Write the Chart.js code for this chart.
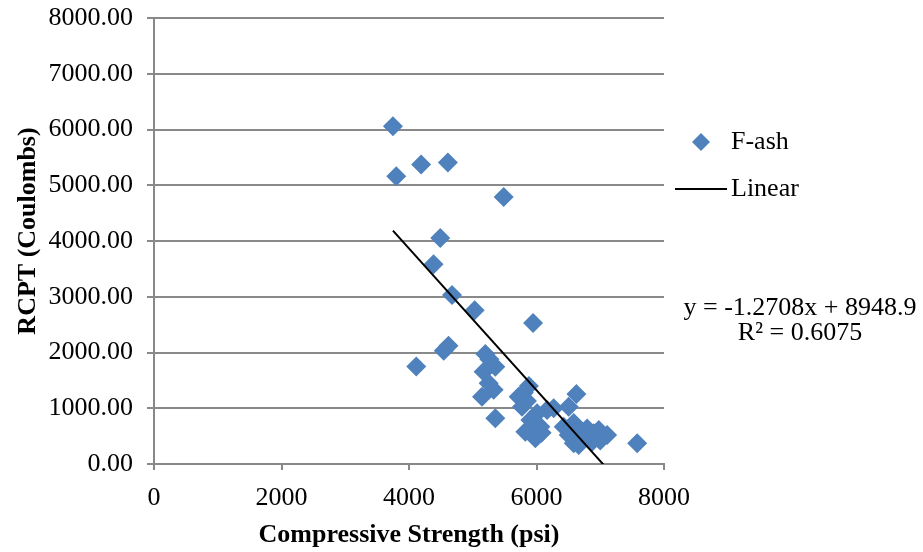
<!DOCTYPE html>
<html>
<head>
<meta charset="utf-8">
<script src="https://cdn.jsdelivr.net/npm/chart.js@4.4.1/dist/chart.umd.min.js"></script>
<style>
  html, body { margin: 0; padding: 0; background: #ffffff; }
  #wrap { width: 923px; height: 552px; }
</style>
</head>
<body>
<div id="wrap"><canvas id="chart" width="923" height="552"></canvas></div>
<script>
// Compressive strength (psi) of each F-ash mix
const strengthPsi = [
  3748, 3800, 4190, 4610, 5485, 4490, 4385, 4675, 5030, 5946,
  4620, 4545, 4114, 5197, 5260, 5354, 5171, 5249, 5328, 5145,
  5354, 5880, 5800, 5720, 5773, 5850, 6009, 5904, 5825, 5982,
  6061, 5990, 6080, 6270, 6166, 6626, 6505, 6584, 6505, 6427,
  6794, 6977, 7108, 6662, 6872, 6715, 6898, 7579, 6584, 7000
];
// Rapid chloride permeability (Coulombs) of the same mixes
const rcptCoulombs = [
  6060, 5160, 5370, 5410, 4790, 4055, 3585, 3030, 2760, 2530,
  2120, 2030, 1750, 1975, 1880, 1745, 1655, 1450, 1330, 1207,
  820, 1400, 1280, 1207, 1028, 1130, 909, 789, 580, 460,
  669, 740, 560, 998, 968, 1255, 1028, 737, 520, 669,
  638, 610, 520, 341, 400, 550, 550, 371, 371, 420
];

const xTickValues = [0, 2000, 4000, 6000, 8000];
const yTickValues = [0, 1000, 2000, 3000, 4000, 5000, 6000, 7000, 8000];

const seriesName = 'F-ash';
const trendName = 'Linear';
const trendSlope = -1.2708;
const trendIntercept = 8948.9;
const trendR2 = 0.6075;

const xTitle = 'Compressive Strength (psi)';
const yTitle = 'RCPT (Coulombs)';

const pointColor = '#4F81BD';
const gridColor = '#898989';
const serif = "'Liberation Serif', 'Times New Roman', serif";

const points = strengthPsi.map((x, i) => ({ x: x, y: rcptCoulombs[i] }));
const xMin = Math.min(...strengthPsi);
const xMax = Math.max(...strengthPsi);
const trendPoints = [
  { x: xMin, y: trendSlope * xMin + trendIntercept },
  { x: xMax, y: trendSlope * xMax + trendIntercept }
];

function diamond(ctx, x, y, r) {
  ctx.beginPath();
  ctx.moveTo(x - r, y);
  ctx.lineTo(x, y - r);
  ctx.lineTo(x + r, y);
  ctx.lineTo(x, y + r);
  ctx.closePath();
  ctx.fill();
}

// Vertical axis title, legend entries and the trendline equation
const sidePanel = {
  id: 'sidePanel',
  afterDraw(chart) {
    const ctx = chart.ctx;
    ctx.save();

    ctx.save();
    ctx.translate(28, 231);
    ctx.rotate(-Math.PI / 2);
    ctx.font = 'bold 26px ' + serif;
    ctx.fillStyle = '#000000';
    ctx.textAlign = 'center';
    ctx.textBaseline = 'middle';
    ctx.fillText(yTitle, 0, 0);
    ctx.restore();

    ctx.font = '26px ' + serif;
    ctx.fillStyle = '#000000';
    ctx.textBaseline = 'middle';
    ctx.textAlign = 'left';

    ctx.fillStyle = pointColor;
    diamond(ctx, 701, 142, 9);
    ctx.fillStyle = '#000000';
    ctx.fillText(seriesName, 731, 142);

    ctx.strokeStyle = '#000000';
    ctx.lineWidth = 2;
    ctx.beginPath();
    ctx.moveTo(675, 189);
    ctx.lineTo(727, 189);
    ctx.stroke();
    ctx.fillText(trendName, 731, 189);

    const sign = trendIntercept >= 0 ? '+' : '-';
    ctx.textAlign = 'center';
    ctx.fillText('y = ' + trendSlope + 'x ' + sign + ' ' + Math.abs(trendIntercept).toFixed(1), 800, 308);
    ctx.fillText('R\u00B2 = ' + trendR2.toFixed(4), 800, 333);
    ctx.restore();
  }
};

new Chart(document.getElementById('chart'), {
  type: 'scatter',
  data: {
    datasets: [
      {
        label: trendName,
        data: trendPoints,
        showLine: true,
        borderColor: '#000000',
        borderWidth: 2,
        pointRadius: 0,
        fill: false,
        order: 0
      },
      {
        label: seriesName,
        data: points,
        pointStyle: 'rectRot',
        pointRadius: 10,
        pointBackgroundColor: pointColor,
        pointBorderColor: pointColor,
        pointBorderWidth: 0,
        showLine: false,
        order: 1
      }
    ]
  },
  options: {
    responsive: false,
    animation: false,
    devicePixelRatio: 1,
    layout: { padding: { top: 18, right: 259, left: 0, bottom: 0 } },
    plugins: {
      legend: { display: false },
      tooltip: { enabled: false }
    },
    scales: {
      x: {
        type: 'linear',
        min: xTickValues[0],
        max: xTickValues[xTickValues.length - 1],
        afterBuildTicks(scale) { scale.ticks = xTickValues.map(v => ({ value: v })); },
        afterFit(scale) { scale.height = 88; scale.paddingLeft = 0; scale.paddingRight = 0; },
        ticks: {
          color: '#000000',
          font: { family: serif, size: 26 },
          padding: 13,
          maxRotation: 0,
          callback: v => String(v)
        },
        grid: {
          display: true,
          drawOnChartArea: false,
          drawTicks: true,
          tickLength: 6,
          color: gridColor,
          lineWidth: 2
        },
        border: { display: true, color: gridColor, width: 2 },
        title: {
          display: true,
          text: xTitle,
          color: '#000000',
          font: { family: serif, size: 26, weight: 'bold', lineHeight: 1.2 },
          padding: { top: 0, bottom: 1 }
        }
      },
      y: {
        type: 'linear',
        min: yTickValues[0],
        max: yTickValues[yTickValues.length - 1],
        afterBuildTicks(scale) { scale.ticks = yTickValues.map(v => ({ value: v })); },
        afterFit(scale) { scale.width = 154; scale.paddingTop = 0; scale.paddingBottom = 0; },
        ticks: {
          color: '#000000',
          font: { family: serif, size: 26 },
          padding: 14,
          callback: v => Number(v).toFixed(2)
        },
        grid: {
          display: true,
          drawOnChartArea: true,
          drawTicks: true,
          tickLength: 7,
          color: gridColor,
          lineWidth: 2
        },
        border: { display: true, color: gridColor, width: 2 },
        title: { display: false }
      }
    }
  },
  plugins: [sidePanel]
});
</script>
</body>
</html>
